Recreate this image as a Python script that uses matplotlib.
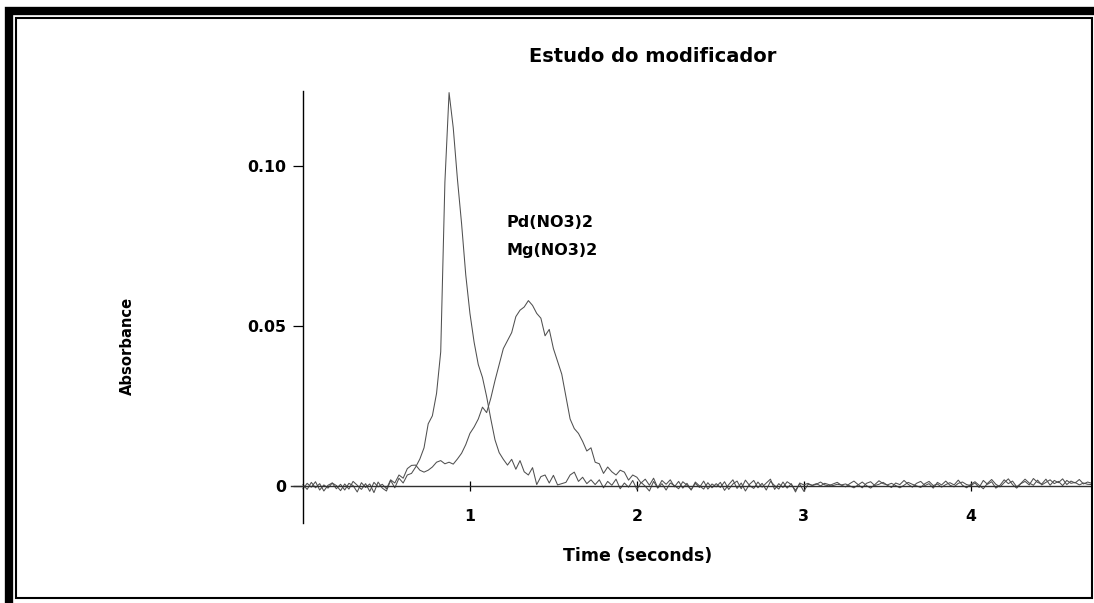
import numpy as np
import matplotlib
matplotlib.use("Agg")
import matplotlib.pyplot as plt
from matplotlib.patches import Rectangle

# ---------------- data (absorbance in milli-absorbance units, sampled every 0.025 s) ----------------
sample_step_s = 0.025

# sharp, early peak
sharp_mabs = [
    0.5, -1.0, 1.2, -0.5, 0.8, -1.5, 0.3, 1.0, -0.8, 0.6,        # 0.000
    -1.2, 0.9, 0.2, -1.8, 1.1, -0.4, 0.7, -2.0, 1.3, -0.6,       # 0.250
    -1.5, 1.8, -0.5, 2.5, 1.0, 3.5, 4.0, 6.0, 8.5, 12.0,         # 0.500
    19.5, 22.0, 29.0, 42.0, 95.0, 123.0, 112.0, 96.0, 82.0, 66.0,  # 0.750
    54.0, 45.0, 38.0, 34.0, 28.0, 21.0, 14.5, 10.5, 8.4, 6.6,    # 1.000
    8.4, 5.3, 8.0, 4.5, 3.5, 5.8, 0.5, 3.0, 3.5, 1.0,            # 1.250
    3.4, 0.4, 0.8, 1.2, 3.5, 4.4, 1.5, 2.8, 0.8, 2.0,            # 1.500
    0.5, 2.0, -0.5, 1.5, 0.3, 2.2, -0.8, 1.0, -0.3, 1.8,         # 1.750
    -1.0, 1.2, 0.0, -1.5, 1.5, -0.6, 0.8, -1.2, 1.0, 0.2,        # 2.000
    -0.8, 1.4, 0.3, -1.1, 0.9, -0.4, 1.6, -0.9, 0.7, -0.2,       # 2.250
    1.2, -1.3, 0.5, 2.0, -0.7, 1.0, -1.5, 0.6, 1.8, -0.5,        # 2.500
    0.9, -1.2, 1.5, 0.2, -0.9, 1.3, -0.6, 0.8, -1.8, 1.0,        # 2.750
    0.4, 0.9, 0.2, 0.6, 1.3, 0.4, 0.1, 0.7, 1.2, 0.3,            # 3.000
    -0.2, 0.8, 1.6, 0.5, -0.5, 0.9, 1.4, 0.2, 0.6, 1.2,          # 3.250
    0.3, -0.4, 1.0, 0.5, 1.8, 0.6, -0.3, 0.9, 1.5, 0.2,          # 3.500
    0.8, -0.6, 1.2, 0.4, 1.6, 0.3, -0.2, 0.9, 1.3, 0.5,          # 3.750
    0.2, 1.0, -0.4, 1.8, 0.6, 1.4, -0.6, 0.3, 2.0, 0.8,          # 4.000
    1.6, -0.2, 0.9, 2.2, 1.0, 0.3, 1.9, 0.4, 1.2, 2.0,           # 4.250
    0.8, 1.5, 0.2, 1.8, 0.9, 1.2, 0.4, 1.0, 0.6, 0.5,            # 4.500
]

# broad, later peak
broad_mabs = [
    -0.8, 0.9, -0.3, 1.4, -1.2, 0.4, -0.6, 1.0, 0.2, -1.4,       # 0.000
    0.7, -0.9, 1.5, 0.3, -1.0, 0.8, -1.6, 1.2, -0.2, 0.6,        # 0.250
    -0.8, 2.0, 1.0, 3.5, 2.5, 5.5, 6.5, 6.6, 5.0, 4.4,           # 0.500
    5.0, 6.0, 7.5, 8.0, 7.0, 7.5, 6.9, 8.5, 10.3, 13.0,          # 0.750
    16.5, 18.5, 21.0, 24.7, 23.0, 27.5, 33.0, 38.0, 43.0, 45.5,  # 1.000
    48.0, 53.0, 55.0, 56.0, 58.0, 56.5, 54.0, 52.5, 47.0, 49.0,  # 1.250
    43.0, 39.0, 35.0, 28.0, 21.0, 18.0, 16.5, 14.0, 11.0, 12.0,  # 1.500
    7.5, 7.0, 4.0, 6.0, 4.5, 3.5, 5.0, 4.4, 1.9, 3.5,            # 1.750
    2.8, 1.0, 2.2, 0.3, 2.5, -0.5, 1.8, 0.6, 2.0, -0.2,          # 2.000
    1.5, -0.6, 0.9, -1.2, 1.3, 0.1, -0.9, 1.1, -0.5, 0.8,        # 2.250
    -0.4, 1.4, -1.0, 0.7, 1.6, -0.8, 1.9, 0.2, -0.7, 1.3,        # 2.500
    -0.3, 1.0, 2.2, -1.0, 0.8, -0.4, 1.4, 0.5, -1.3, 0.7,        # 2.750
    -1.6, 0.6, 0.3, 0.8, 0.1, 0.9, 0.5, 0.2, 0.6, 0.4,           # 3.000
    0.7, 0.1, -0.5, 0.4, 1.3, 0.2, -0.6, 0.5, 1.7, 0.8,          # 3.250
    0.4, 0.9, 0.2, -0.5, 0.3, 1.2, 0.6, 0.1, -0.4, 0.8,          # 3.500
    1.5, 0.2, 0.7, -0.3, 0.5, 1.1, 0.4, 1.9, 0.3, -0.5,          # 3.750
    0.6, 1.4, 0.3, -0.8, 0.9, 2.1, 0.6, -0.2, 1.1, 2.3,          # 4.000
    0.5, -0.6, 0.8, 1.5, 0.4, 2.4, 1.2, 0.7, 2.2, 0.3,           # 4.250
    1.8, 1.1, 2.3, 0.5, 1.6, 1.0, 2.1, 0.7, 1.3, 0.9,            # 4.500
]

legend_labels = ["Pd(NO3)2", "Mg(NO3)2"]
y_ticks = [0.0, 0.05, 0.10]
y_tick_labels = ["0", "0.05", "0.10"]
x_ticks = [1, 2, 3, 4]
x_tick_labels = ["1", "2", "3", "4"]
title = "Estudo do modificador"
x_label = "Time (seconds)"
y_label = "Absorbance"

# ---------------- figure ----------------
W, H = 1094, 603
fig = plt.figure(figsize=(W / 100, H / 100), dpi=100)
fig.patch.set_facecolor("white")

FONT = "DejaVu Sans"

def fx(px):
    return px / W

def fy(py):
    return 1 - py / H

# frame borders
fig.patches.append(Rectangle((fx(9), fy(640)), fx(1120) - fx(9), fy(11) - fy(640),
                             transform=fig.transFigure, fill=False, edgecolor="black",
                             linewidth=6.0, zorder=10))
fig.patches.append(Rectangle((fx(16), fy(598)), fx(1092) - fx(16), fy(18) - fy(598),
                             transform=fig.transFigure, fill=False, edgecolor="black",
                             linewidth=1.5, zorder=10))

ax_left, ax_right = 291.3, 1091.0
ax_top, ax_bottom = 91.0, 523.0
ax = fig.add_axes([fx(ax_left), fy(ax_bottom), fx(ax_right) - fx(ax_left),
                   (ax_bottom - ax_top) / H])
ax.set_facecolor("none")

t_sharp = np.arange(len(sharp_mabs)) * sample_step_s
t_broad = np.arange(len(broad_mabs)) * sample_step_s
a_sharp = np.array(sharp_mabs) / 1000.0
a_broad = np.array(broad_mabs) / 1000.0

line_color = "#505050"
ax.plot(t_broad, a_broad, color=line_color, linewidth=0.75, clip_on=False)
ax.plot(t_sharp, a_sharp, color=line_color, linewidth=0.75, clip_on=False)

ax.set_xlim(-0.07, 4.72)
ax.set_ylim(-0.0115, 0.1235)

for s in ("top", "right"):
    ax.spines[s].set_visible(False)
ax.spines["left"].set_position(("data", 0))
ax.spines["bottom"].set_position(("data", 0))
ax.spines["left"].set_linewidth(1.0)
ax.spines["bottom"].set_linewidth(1.0)
ax.spines["bottom"].set_color("#303030")

ax.set_yticks(y_ticks)
ax.set_yticklabels(y_tick_labels)
ax.set_xticks(x_ticks)
ax.set_xticklabels(x_tick_labels)
ax.tick_params(axis="y", direction="out", length=7, width=0.9, pad=5,
               labelsize=11.3)
ax.tick_params(axis="x", direction="inout", length=7, width=0.9, pad=13,
               labelsize=11.3)
for lab in ax.get_xticklabels() + ax.get_yticklabels():
    lab.set_fontweight("bold")
    lab.set_fontfamily(FONT)

ax.set_xlabel(x_label, fontsize=12.5, fontweight="bold", family=FONT)
ax.xaxis.set_label_coords(0.433, -0.056)
ax.set_ylabel(y_label, fontsize=10.6, fontweight="bold", family=FONT)
ax.yaxis.set_label_coords(-0.195, 0.41)

ax.text(0.452, 1.079, title, transform=ax.transAxes, ha="center", va="center",
        fontsize=14.0, fontweight="bold", family=FONT)

ax.text(1.22, 0.0825, legend_labels[0], ha="left", va="center",
        fontsize=11.5, fontweight="bold", family=FONT)
ax.text(1.22, 0.0737, legend_labels[1], ha="left", va="center",
        fontsize=11.5, fontweight="bold", family=FONT)

fig.savefig("out.png", dpi=100, facecolor="white")
